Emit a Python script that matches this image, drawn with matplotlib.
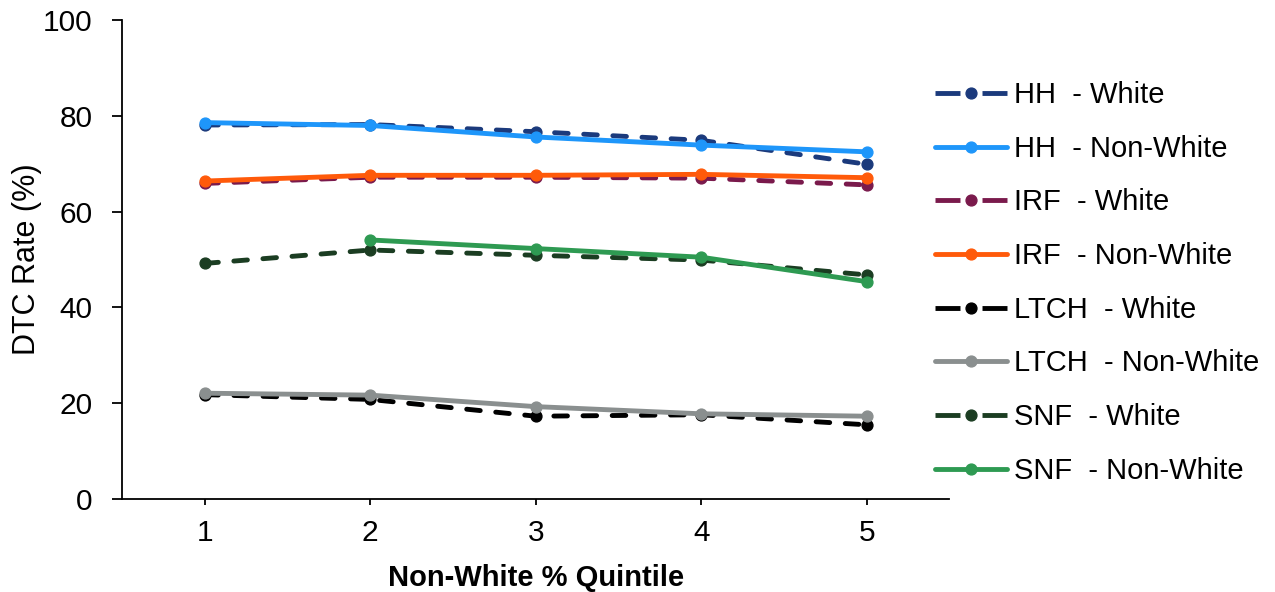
import numpy as np
import matplotlib.pyplot as plt

plt.rcParams['font.family'] = ['Liberation Sans', 'DejaVu Sans']

quintiles = [1, 2, 3, 4, 5]

hh_white = [78.1, 78.2, 76.7, 74.9, 69.9]
hh_nonwhite = [78.6, 78.0, 75.6, 73.9, 72.5]
irf_white = [65.9, 67.2, 67.2, 67.0, 65.6]
irf_nonwhite = [66.4, 67.6, 67.6, 67.8, 67.1]
ltch_white = [21.8, 20.8, 17.3, 17.6, 15.5]
ltch_nonwhite = [22.1, 21.7, 19.3, 17.8, 17.3]
snf_white = [49.2, 52.0, 50.9, 49.9, 46.8]
snf_nonwhite = [np.nan, 54.1, 52.3, 50.5, 45.4]

series = [
    ('HH  - White', hh_white, '#1b3a7c', True),
    ('HH  - Non-White', hh_nonwhite, '#1e96fa', False),
    ('IRF  - White', irf_white, '#7a1a4c', True),
    ('IRF  - Non-White', irf_nonwhite, '#ff5a0a', False),
    ('LTCH  - White', ltch_white, '#000000', True),
    ('LTCH  - Non-White', ltch_nonwhite, '#8a8f8f', False),
    ('SNF  - White', snf_white, '#1b3d22', True),
    ('SNF  - Non-White', snf_nonwhite, '#2e9a52', False),
]

fig = plt.figure(figsize=(12.75, 5.92), dpi=100)
ax = fig.add_axes([0.0957, 0.157, 0.649, 0.809])

for label, vals, color, dashed in series:
    line, = ax.plot(quintiles, vals, color=color, lw=3.5, marker='o',
                    markersize=7.8, label=label, solid_capstyle='round',
                    dash_capstyle='round')
    if dashed:
        line.set_dashes((2.8, 3.2))

ax.set_xlim(0.5, 5.5)
ax.set_ylim(0, 100)
ax.set_xticks(quintiles)
ax.set_yticks(np.arange(0, 101, 20))
ax.spines['top'].set_visible(False)
ax.spines['right'].set_visible(False)
ax.spines['left'].set_linewidth(1.3)
ax.spines['bottom'].set_linewidth(1.3)
ax.tick_params(axis='x', direction='out', length=4.5, width=1.3,
               labelsize=21.5, pad=10)
ax.tick_params(axis='y', direction='out', length=7, width=1.3,
               labelsize=21.5, pad=14)

ax.set_xlabel('Non-White % Quintile', fontsize=21, fontweight='bold', labelpad=12)
ax.set_ylabel('DTC Rate (%)', fontsize=22, labelpad=1)

leg = ax.legend(loc='upper left', bbox_to_anchor=(0.7333, 0.863),
                bbox_transform=fig.transFigure, frameon=False,
                fontsize=21, handlelength=2.47, handletextpad=0.25,
                labelspacing=0.88, borderaxespad=0, borderpad=0)

# legend keys: dash - dot - dash for the dashed series
for handle, (_, _, _, dashed) in zip(leg.get_lines(), series):
    if dashed:
        handle.set_dash_capstyle('butt')
        handle.set_dashes((5.14, 4.53))

fig.savefig('out.png', dpi=100)
